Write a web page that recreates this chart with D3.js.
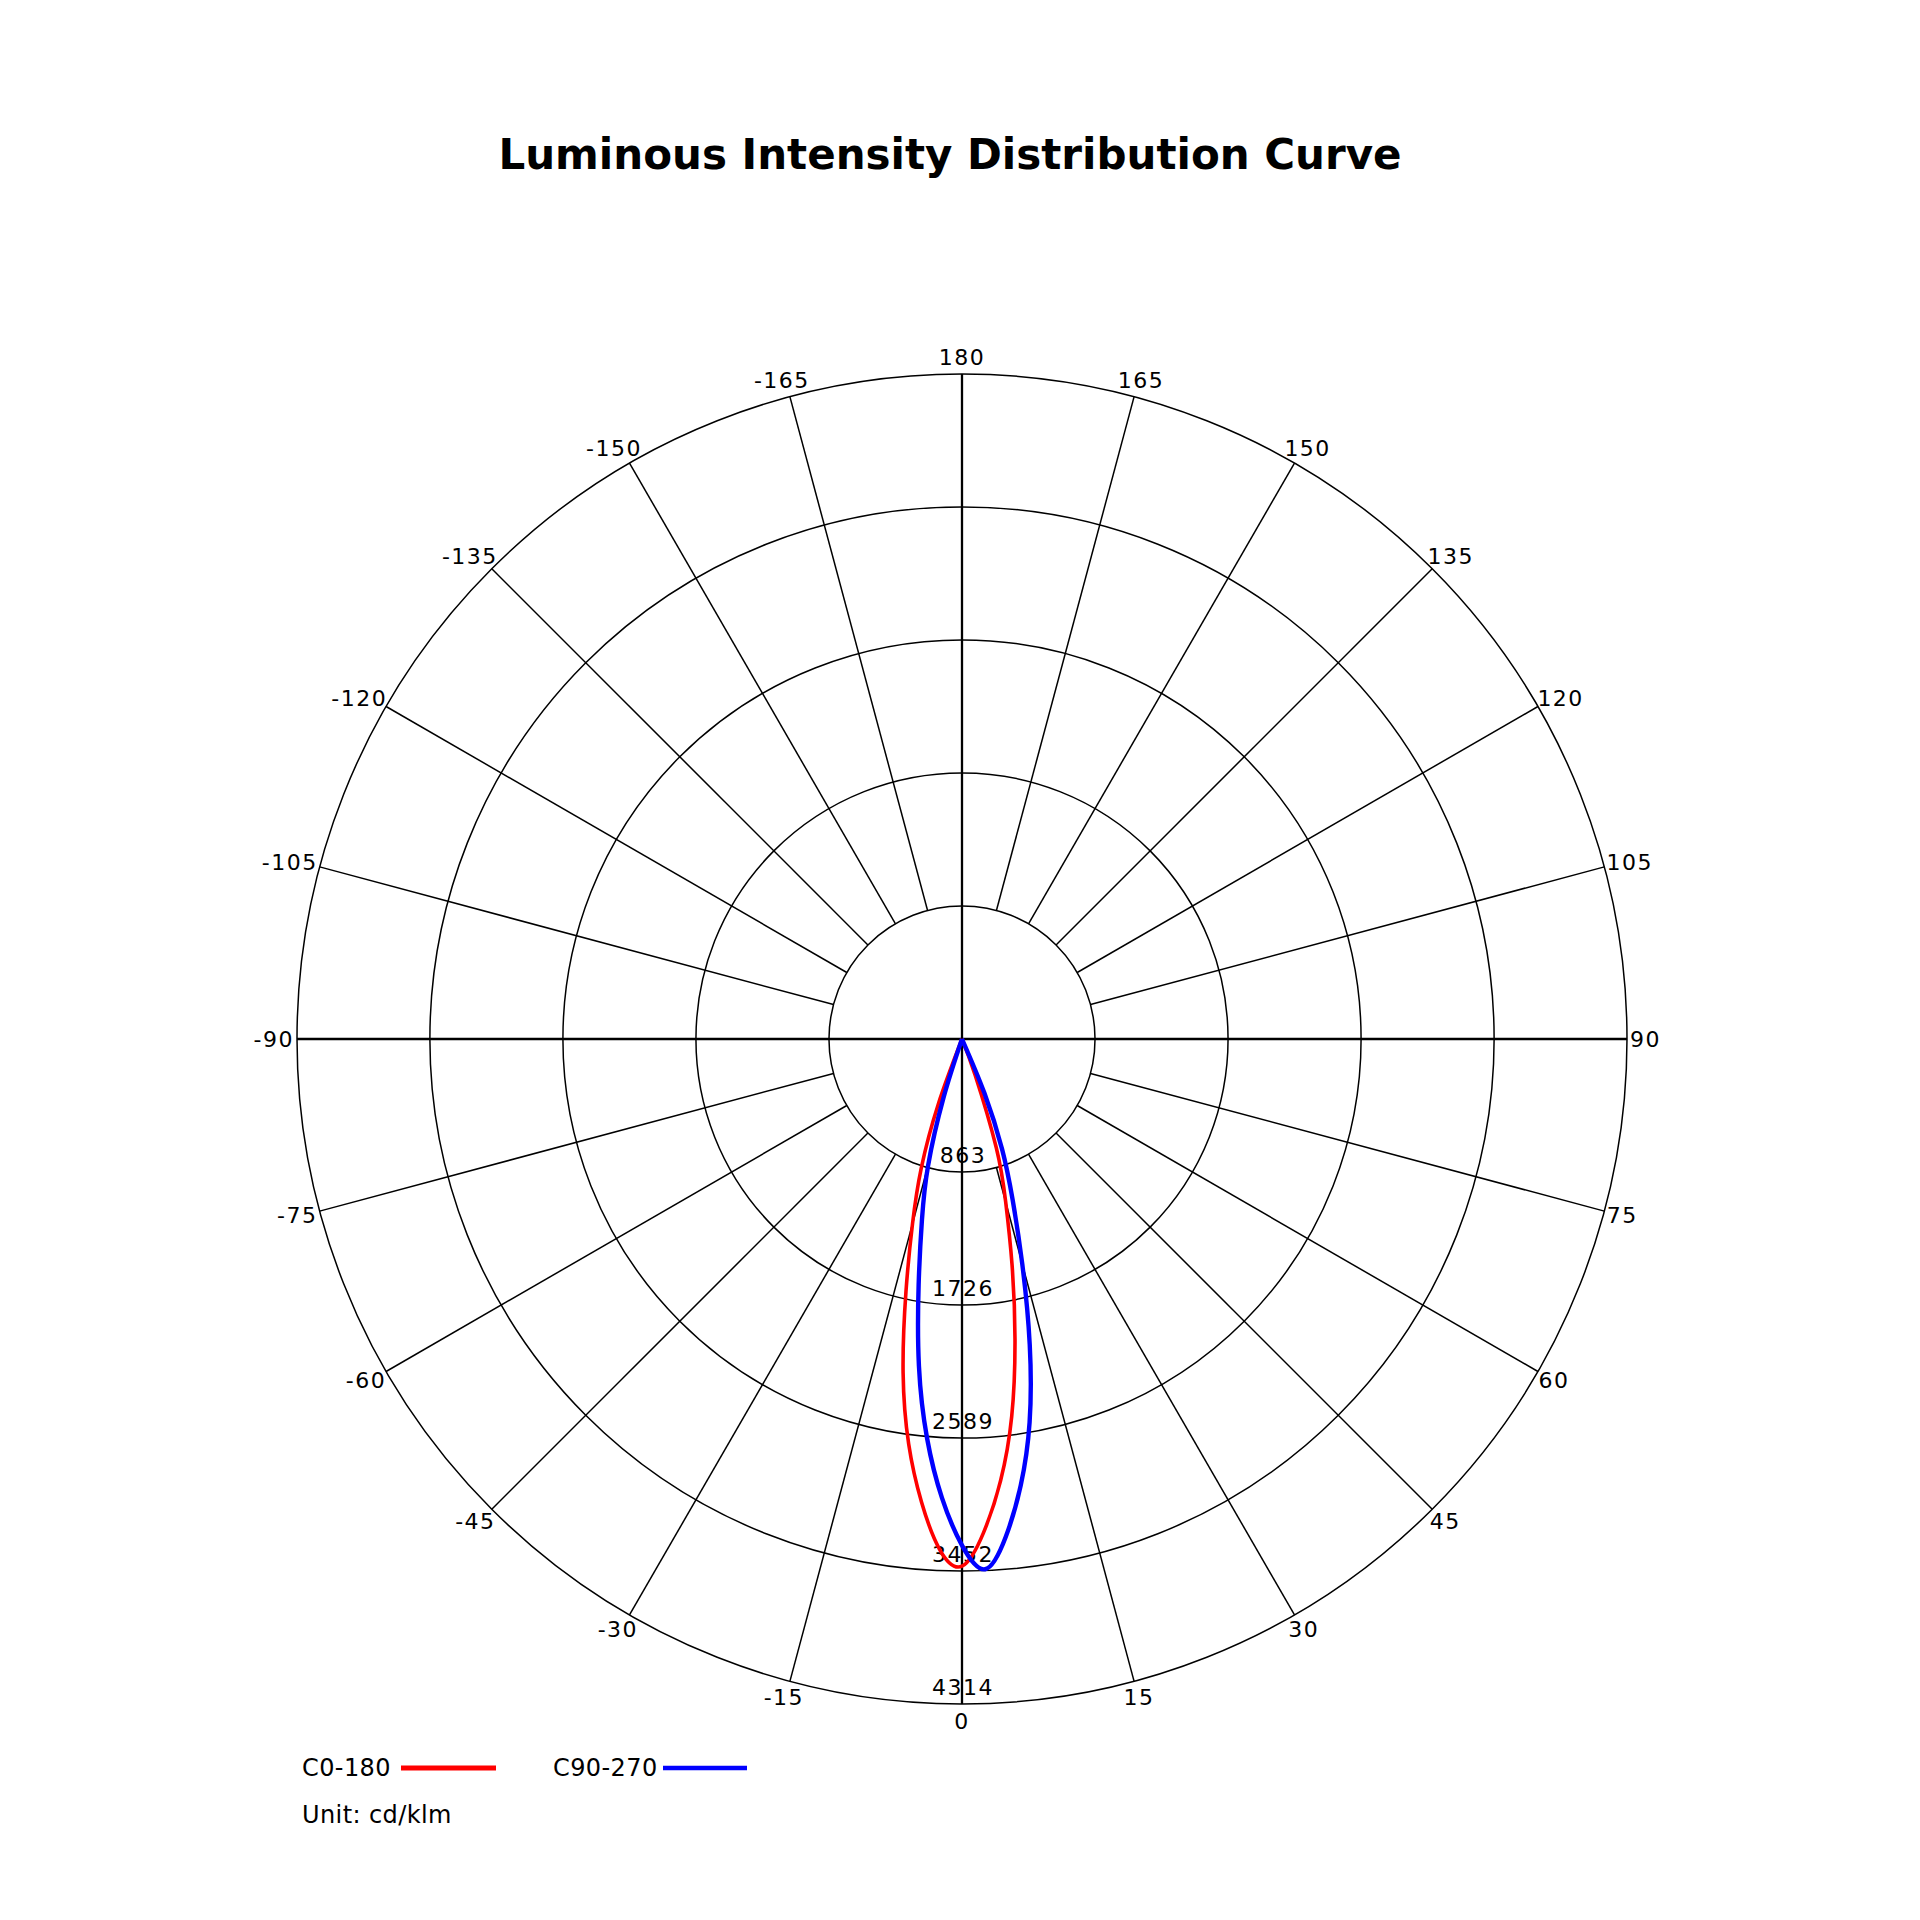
<!DOCTYPE html>
<html>
<head>
<meta charset="utf-8">
<script src="https://cdn.jsdelivr.net/npm/d3@7"></script>
<style>
  body { margin: 0; background: #fff; }
  text { font-family: "DejaVu Sans", Verdana, sans-serif; fill: #000; }
</style>
</head>
<body>
<div id="chart"></div>
<script>
// gamma angles (deg) the curves were read at
const gammas = [-25, -22.5, -20, -17.5, -15, -12.5, -10, -7.5, -5, -2.5, 0,
                2.5, 5, 7.5, 10, 12.5, 15, 17.5, 20, 22.5, 25];
// cd/klm
const c0_180  = [0, 0, 450, 880, 1240, 1680, 2200, 2650, 3015, 3315, 3420,
                 3205, 2875, 2470, 1980, 1500, 1095, 740, 250, 0, 0];
const c90_270 = [0, 0, 0, 400, 850, 1200, 1620, 2140, 2600, 2980, 3285,
                 3443, 3245, 2920, 2525, 2030, 1510, 1090, 760, 380, 0];

const ringValues = [863, 1726, 2589, 3452, 4314];
const spokeAngles = [-165, -150, -135, -120, -105, -90, -75, -60, -45, -30, -15,
                     0, 15, 30, 45, 60, 75, 90, 105, 120, 135, 150, 165, 180];
const seriesNames = ["C0-180", "C90-270"];
const seriesColors = ["#ff0000", "#0000ff"];

const W = 1920, H = 1920;
const cx = 962, cy = 1039, R = 665;

const svg = d3.select("#chart").append("svg")
    .attr("width", W)
    .attr("height", H)
    .attr("viewBox", [0, 0, W, H]);

svg.append("rect").attr("width", W).attr("height", H).attr("fill", "#fff");

svg.append("text")
    .attr("x", 950)
    .attr("y", 169)
    .attr("text-anchor", "middle")
    .attr("font-size", 42)
    .attr("font-weight", "bold")
    .text("Luminous Intensity Distribution Curve");

const r = d3.scaleLinear().domain([0, 4314]).range([0, R]);
const rad = g => g * Math.PI / 180;
// gamma 0 points down, positive to the right
const px = (g, v) => cx + v * Math.sin(rad(g));
const py = (g, v) => cy + v * Math.cos(rad(g));

const plot = svg.append("g");

// rings
plot.append("g")
    .selectAll("circle")
    .data(ringValues)
    .join("circle")
    .attr("cx", cx)
    .attr("cy", cy)
    .attr("r", d => r(d))
    .attr("fill", "none")
    .attr("stroke", "#000")
    .attr("stroke-width", 1.5);

// spokes, main axes go through the centre
plot.append("g")
    .selectAll("line")
    .data(spokeAngles)
    .join("line")
    .attr("x1", d => d % 90 === 0 ? cx : px(d, r(ringValues[0])))
    .attr("y1", d => d % 90 === 0 ? cy : py(d, r(ringValues[0])))
    .attr("x2", d => px(d, R))
    .attr("y2", d => py(d, R))
    .attr("stroke", "#000")
    .attr("stroke-width", d => d % 90 === 0 ? 2.3 : 1.5);

// angle labels outside the outer ring
plot.append("g")
    .selectAll("text")
    .data(spokeAngles)
    .join("text")
    .attr("font-size", 22)
    .attr("letter-spacing", 1.5)
    .attr("text-anchor", "middle")
    .attr("dy", "0.35em")
    .text(d => d)
    .each(function(d) {
        const w = this.getComputedTextLength();
        d3.select(this)
            .attr("x", px(d, R) + Math.sin(rad(d)) * (w / 2 + 3))
            .attr("y", py(d, R) + Math.cos(rad(d)) * 17);
    });

// ring values along the 0 axis
plot.append("g")
    .selectAll("text")
    .data(ringValues)
    .join("text")
    .attr("font-size", 22)
    .attr("letter-spacing", 1.5)
    .attr("text-anchor", "middle")
    .attr("x", cx + 1)
    .attr("y", d => cy + r(d) - 9)
    .text(d => d);

// intensity curves
const line = d3.lineRadial()
    .angle(d => Math.PI - rad(d.g))
    .radius(d => r(d.v))
    .curve(d3.curveNatural);

[c0_180, c90_270].forEach((vals, i) => {
    const pts = gammas.map((g, j) => ({g, v: vals[j]}))
        .filter((d, j) => d.v > 0 || vals[j - 1] > 0 || vals[j + 1] > 0);
    plot.append("path")
        .attr("transform", `translate(${cx},${cy})`)
        .attr("d", line(pts))
        .attr("fill", "none")
        .attr("stroke", seriesColors[i])
        .attr("stroke-width", i === 0 ? 3.6 : 4.4)
        .attr("stroke-linejoin", "round");
});

// legend
const legendX = [302, 553];
const legendLine = [[401, 496], [663, 747]];
seriesNames.forEach((name, i) => {
    svg.append("text")
        .attr("x", legendX[i])
        .attr("y", 1776)
        .attr("font-size", 24)
        .attr("letter-spacing", 0.4)
        .text(name);
    svg.append("line")
        .attr("x1", legendLine[i][0])
        .attr("x2", legendLine[i][1])
        .attr("y1", 1768)
        .attr("y2", 1768)
        .attr("stroke", seriesColors[i])
        .attr("stroke-width", i === 0 ? 5 : 4.5);
});

svg.append("text")
    .attr("x", 302)
    .attr("y", 1823)
    .attr("font-size", 24)
    .attr("letter-spacing", 0.4)
    .text("Unit: cd/klm");
</script>
</body>
</html>
